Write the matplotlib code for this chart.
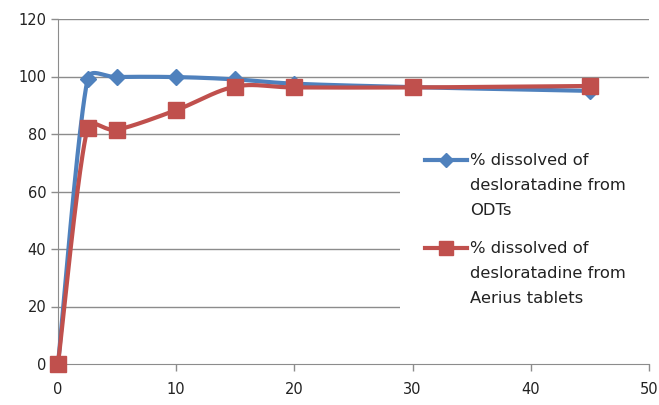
import numpy as np
import matplotlib
matplotlib.use("Agg")
import matplotlib.pyplot as plt
from matplotlib.lines import Line2D
from matplotlib.patches import Rectangle

time_min = [0, 2.5, 5, 10, 15, 20, 30, 45]
odt = [0, 99, 99.8, 99.8, 99, 97.5, 96.3, 95]
aerius = [0, 82, 81.5, 88.3, 96.5, 96.2, 96.2, 96.7]

labels = ["% dissolved of\ndesloratadine from\nODTs",
          "% dissolved of\ndesloratadine from\nAerius tablets"]
blue = "#4F81BD"
red = "#C0504D"
grid_c = "#8C8C8C"

plt.rcParams["font.family"] = "DejaVu Sans"

W, H = 659, 405
fig = plt.figure(figsize=(W / 100, H / 100), dpi=100)
ax = fig.add_axes([58 / W, 1 - 364 / H, (649 - 58) / W, (364 - 19) / H])
ax.set_xlim(0, 50)
ax.set_ylim(0, 120)


def smooth(x, y, n=40):
    # Excel-like smoothed line: bezier segments with (p2-p0)/6 tangents in screen space
    pts = ax.transData.transform(np.column_stack([x, y]))
    out = [pts[0]]
    for i in range(len(pts) - 1):
        p0 = pts[i - 1] if i > 0 else pts[i]
        p1, p2 = pts[i], pts[i + 1]
        p3 = pts[i + 2] if i + 2 < len(pts) else pts[i + 1]
        d12 = np.linalg.norm(p2 - p1)
        o1 = (p2 - p0) / 6
        o2 = (p3 - p1) / 6
        lim = 0.45 * d12
        if np.linalg.norm(o1) > lim:
            o1 = o1 * lim / np.linalg.norm(o1)
        if np.linalg.norm(o2) > lim:
            o2 = o2 * lim / np.linalg.norm(o2)
        c1, c2 = p1 + o1, p2 - o2
        t = np.linspace(0, 1, n)[1:, None]
        seg = ((1 - t) ** 3) * p1 + 3 * t * (1 - t) ** 2 * c1 + 3 * t ** 2 * (1 - t) * c2 + t ** 3 * p2
        out.extend(seg)
    out = np.array(out)
    return ax.transData.inverted().transform(out).T


for yv in [20, 40, 60, 80, 100, 120]:
    ax.axhline(yv, color=grid_c, lw=1, zorder=0)

# white legend area hiding the gridlines on the right
ax.add_patch(Rectangle((400 / W, 1 - 318 / H), 1 - 400 / W, (318 - 122) / H,
                       transform=fig.transFigure, facecolor="white", edgecolor="none",
                       zorder=1, clip_on=False))

sx, sy = smooth(time_min, odt)
ax.plot(sx, sy, color=blue, lw=3, zorder=3, clip_on=False)
ax.plot(time_min, odt, ls="none", marker="D", ms=8.5, color=blue, zorder=4, clip_on=False)

sx, sy = smooth(time_min, aerius)
ax.plot(sx, sy, color=red, lw=3, zorder=5, clip_on=False)
ax.plot(time_min, aerius, ls="none", marker="s", ms=11, color=red, zorder=6, clip_on=False)

for s in ["top", "right"]:
    ax.spines[s].set_visible(False)
for s in ["left", "bottom"]:
    ax.spines[s].set_color(grid_c)
ax.set_xticks(range(0, 51, 10))
ax.set_yticks(range(0, 121, 20))
ax.tick_params(colors=grid_c, labelcolor="#222222", labelsize=10.5, length=5, width=1)
ax.tick_params(axis="x", pad=8)

# legend drawn by hand: Excel puts the key beside the first line of each label
legend_items = [(labels[0], blue, "D", 7, 160), (labels[1], red, "s", 10, 248)]
for text, col, mk, size, ypx in legend_items:
    yf = 1 - ypx / H
    fig.add_artist(Line2D([425 / W, 467 / W], [yf, yf], color=col, lw=3, zorder=10))
    fig.add_artist(Line2D([446 / W], [yf], color=col, marker=mk, ms=size, zorder=11))
    # baseline of the last (third) line
    fig.text(470 / W, 1 - (ypx + 55) / H, text, fontsize=11.8, color="#222222",
             va="baseline", ha="left", linespacing=1.85, zorder=12)

fig.savefig("out.png", dpi=100)
